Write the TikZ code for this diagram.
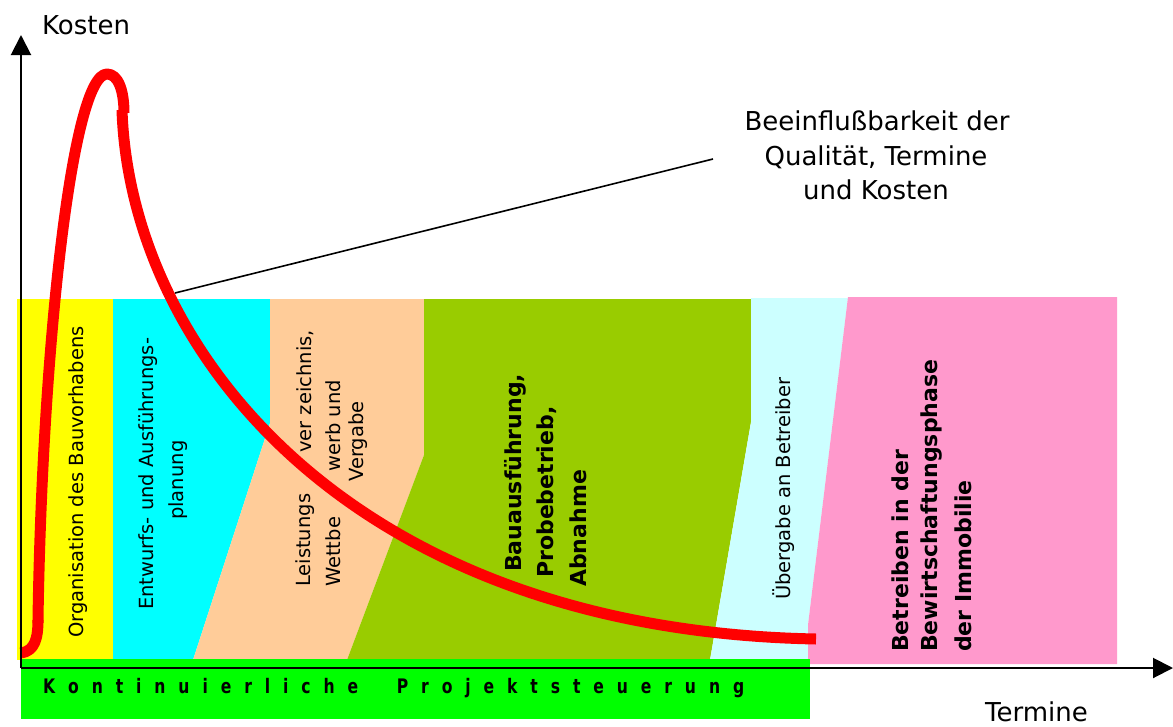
\documentclass[tikz,border=0pt]{standalone}
\usepackage{fontspec}
\setmainfont{DejaVu Sans}
\newfontfamily\barfont{DejaVu Sans}[FakeStretch=0.78]
\usetikzlibrary{arrows.meta}
\definecolor{cYellow}{HTML}{FFFF00}
\definecolor{cCyan}{HTML}{00FFFF}
\definecolor{cPeach}{HTML}{FFCC99}
\definecolor{cOlive}{HTML}{99CC00}
\definecolor{cLightCyan}{HTML}{CCFFFF}
\definecolor{cPink}{HTML}{FF99CC}
\definecolor{cGreen}{HTML}{00FF00}
\definecolor{cRed}{HTML}{FF0000}
\begin{document}
\begin{tikzpicture}[x=1pt,y=-1pt,
  lbl/.style={inner sep=0pt, font=\fontsize{19.5}{22}\selectfont},
  rotlbl/.style={lbl, rotate=90, anchor=west},
  boldrot/.style={rotlbl, font=\fontsize{22}{26}\selectfont\bfseries},
  biglbl/.style={inner sep=0pt, font=\fontsize{26}{30}\selectfont, anchor=base},
  curve/.style={draw=cRed, line width=11pt, line join=round},
  axis/.style={draw=black, line width=2pt, -{Triangle[length=20pt,width=20pt]}},
  callout/.style={draw=black, line width=1.6pt}]
\useasboundingbox (0,0) rectangle (1173,726);
\fill[white] (0,0) rectangle (1173,726);

% phase regions
\fill[cYellow] (17,299) rectangle (113,660);
\fill[cCyan] (113,299) -- (270,299) -- (270,423) -- (193,660) -- (113,660) -- cycle;
\fill[cPeach] (270,299) -- (424,299) -- (424,455) -- (347,660) -- (193,660) -- (270,423) -- cycle;
\fill[cOlive] (424,299) -- (751,299) -- (751,422) -- (710,660) -- (347,660) -- (424,455) -- cycle;
\fill[cLightCyan] (751,298) -- (848,298) -- (808,625) -- (808,660) -- (710,660) -- (751,422) -- cycle;
\fill[cPink] (848,297) -- (1117,297) -- (1117,664) -- (808,664) -- (808,625) -- cycle;

% continuous project control bar
\fill[cGreen] (21,659) rectangle (810,719);
\node[inner sep=0pt, anchor=west, font=\barfont\fontsize{20}{22}\selectfont\bfseries] (bar) at (43,688)
  {\hbox to 701pt{K\hfil o\hfil n\hfil t\hfil i\hfil n\hfil u\hfil i\hfil e\hfil r\hfil l\hfil i\hfil c\hfil h\hfil e\hfil\hfil\hfil P\hfil r\hfil o\hfil j\hfil e\hfil k\hfil t\hfil s\hfil t\hfil e\hfil u\hfil e\hfil r\hfil u\hfil n\hfil g}};

% phase labels
\node[rotlbl] (org) at (78,638) {Organisation des Bauvorhabens};
\node[rotlbl] (ent1) at (148,610) {Entwurfs- und Ausführungs-};
\node[rotlbl] (ent2) at (178,520) {planung};
\node[rotlbl] (lv1a) at (305,587) {Leistungs};
\node[rotlbl] (lv1b) at (305,453) {ver zeichnis,};
\node[rotlbl] (lv2a) at (333,587) {Wettbe};
\node[rotlbl] (lv2b) at (333,472) {werb und};
\node[rotlbl] (lv3) at (358,482) {Vergabe};
\node[boldrot] (bau1) at (515,572) {Bauausführung,};
\node[boldrot] (bau2) at (547,578) {Probebetrieb,};
\node[boldrot] (bau3) at (578,587) {Abnahme};
\node[rotlbl] (ueb) at (784,600) {Übergabe an Betreiber};
\node[boldrot] (betr1) at (900,652) {Betreiben in der};
\node[boldrot] (betr2) at (932,652) {Bewirtschaftungsphase};
\node[boldrot] (betr3) at (963,652) {der Immobilie};

% cost curve
\coordinate (k0) at (21,653);
\coordinate (k1) at (38,620);
\coordinate (kpeak) at (107,74);
\coordinate (kbreak) at (124,113);
\coordinate (kbreak2) at (122,110);
\coordinate (kend) at (816,639);
\draw[curve] (k0) .. controls (35,651) and (38,638) .. (k1);
\draw[curve] (38,623) -- (k1) .. controls (42,350) and (72,74) .. (kpeak)
  .. controls (118,74) and (124,90) .. (kbreak);
\draw[curve] (kbreak2) .. controls (130,350) and (350,630) .. (kend);

% axes
\coordinate (origin) at (21,668);
\coordinate (ytip) at (21,35);
\coordinate (xtip) at (1173,668);
\draw[axis] (origin) -- (ytip);
\draw[axis] (origin) -- (xtip);

% callout
\coordinate (cstart) at (175,293);
\coordinate (cend) at (713,159);
\draw[callout] (cstart) -- (cend);
\node[biglbl] (c1) at (877,130) {Beeinflußbarkeit der};
\node[biglbl] (c2) at (876,165) {Qualität, Termine};
\node[biglbl] (c3) at (876,199) {und Kosten};

% axis labels
\node[biglbl, anchor=base west] (kosten) at (42,34) {Kosten};
\node[biglbl, anchor=base west] (termine) at (985,721) {Termine};
\end{tikzpicture}
\end{document}
